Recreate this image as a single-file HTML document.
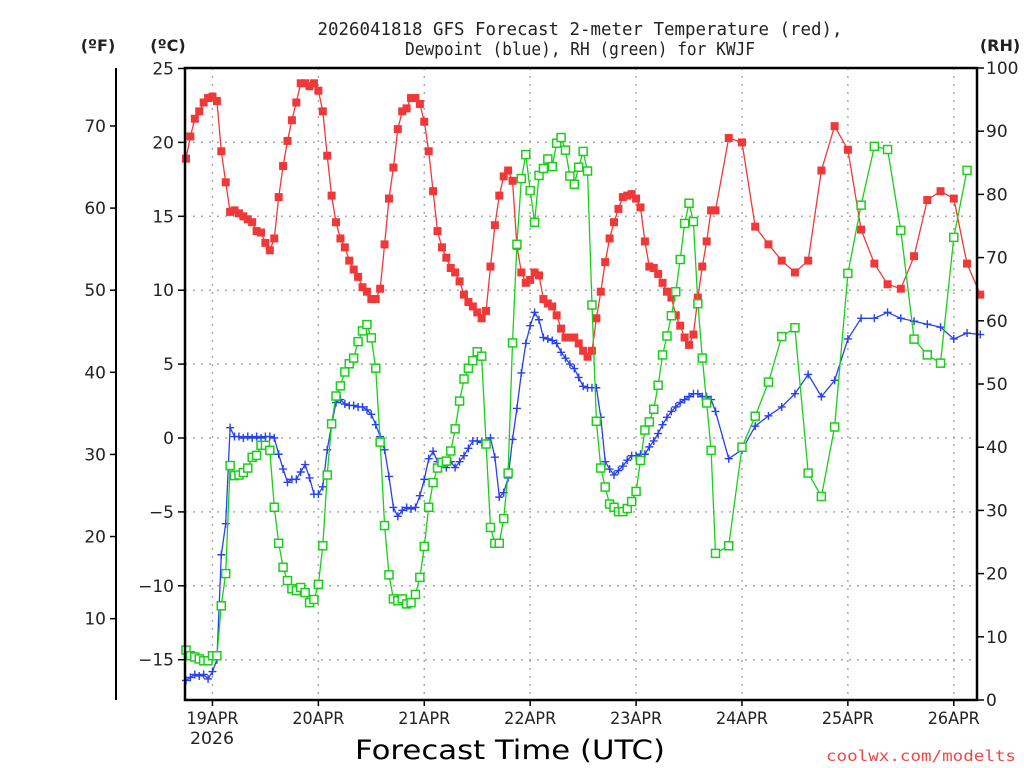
<!DOCTYPE html>
<html><head><meta charset="utf-8"><style>
html,body{margin:0;padding:0;background:#fff;width:1024px;height:768px;overflow:hidden}
svg{display:block}
text{font-family:"DejaVu Sans","Liberation Sans",sans-serif;fill:#222}
</style></head><body>
<svg id="chart" width="1024" height="768" viewBox="0 0 1024 768" xmlns="http://www.w3.org/2000/svg"></svg>
<script>
const tempHours = [];
for (let h = 0; h <= 120; h++) tempHours.push(h);
for (let h = 123; h <= 180; h += 3) tempHours.push(h);
const tempC = [18.9,20.4,21.6,22.1,22.7,23.0,23.1,22.8,19.4,17.3,15.3,15.4,15.2,15.0,14.8,14.6,14.0,13.9,13.2,12.7,13.5,16.3,18.4,20.1,21.5,22.7,24.0,24.0,23.8,24.0,23.5,22.1,19.1,16.4,14.6,13.5,12.9,12.0,11.4,10.9,10.2,9.9,9.4,9.4,10.1,13.1,16.2,18.3,20.9,22.1,22.3,23.0,23.0,22.6,21.4,19.4,16.7,14.0,12.9,12.2,11.5,11.2,10.6,9.7,9.2,8.9,8.5,8.1,8.6,11.6,14.4,16.4,17.7,18.1,17.4,13.0,11.2,10.5,10.7,11.2,11.0,9.4,9.1,8.9,8.3,7.4,6.8,6.8,6.8,6.4,5.9,5.5,5.9,8.1,9.9,11.9,13.5,14.6,15.5,16.3,16.4,16.5,16.2,15.6,13.3,11.6,11.5,11.1,10.5,9.9,9.5,8.3,7.6,6.8,6.3,7.0,9.5,11.6,13.3,15.4,15.4,
20.3,20.0,14.3,13.1,12.0,11.2,12.0,18.1,21.1,19.5,14.1,11.8,10.4,10.1,12.3,16.1,16.7,16.2,11.8,9.7];
const dewC = [-16.4,-16.2,-16.0,-16.1,-16.0,-16.3,-15.8,-15.0,-7.9,-5.8,0.7,0.1,0.1,0.0,0.1,0.0,0.1,0.0,0.1,0.1,0.0,-1.1,-2.1,-3.0,-2.8,-2.8,-2.3,-1.8,-2.7,-3.8,-3.8,-3.3,-0.8,0.9,2.4,2.6,2.3,2.2,2.2,2.1,2.1,1.9,1.6,0.9,0.1,-0.8,-2.6,-4.7,-5.3,-4.9,-4.7,-4.8,-4.7,-3.9,-2.8,-1.4,-0.9,-1.6,-1.7,-2.0,-1.6,-2.0,-1.6,-1.2,-0.7,-0.2,-0.2,-0.3,-0.2,0.0,-1.3,-4.0,-3.7,-2.7,-0.1,2.0,4.4,6.4,7.6,8.5,8.0,6.8,6.7,6.6,6.4,5.8,5.4,5.0,4.7,4.1,3.5,3.4,3.4,3.4,1.4,-1.6,-2.1,-2.5,-2.2,-1.9,-1.5,-1.2,-1.2,-1.1,-1.1,-0.6,-0.2,0.3,0.9,1.4,1.8,2.1,2.4,2.6,2.8,3.0,3.0,2.8,2.8,2.6,1.8,
-1.4,-0.8,0.8,1.5,2.1,3.0,4.3,2.8,3.9,6.7,8.1,8.1,8.5,8.1,7.9,7.7,7.5,6.7,7.1,7.0];
const rhPct = [7.9,7.0,6.8,6.5,6.2,6.2,7.0,7.0,14.9,20.0,37.1,35.5,35.6,36.0,36.7,38.4,38.7,40.3,40.3,39.5,30.5,24.8,21.0,18.9,17.6,17.3,17.8,17.0,15.4,15.9,18.3,24.4,35.6,43.7,48.1,49.7,51.9,53.2,54.1,56.7,58.4,59.4,57.3,52.5,40.8,27.6,19.8,16.0,15.7,16.0,15.2,15.4,16.7,19.4,24.3,30.5,34.4,36.7,37.6,37.8,39.4,42.9,47.3,50.8,52.5,53.7,55.1,54.4,40.5,27.3,24.8,24.8,28.7,35.9,56.5,72.1,82.5,86.3,80.6,75.6,83.0,84.1,85.6,84.4,88.1,89.0,87.0,82.9,81.6,84.3,86.8,83.7,62.5,44.1,36.7,33.7,31.0,30.5,29.8,29.8,30.3,31.4,33.0,37.9,42.7,44.0,46.0,49.8,54.6,57.6,60.8,64.6,69.7,75.4,78.6,75.7,62.7,54.1,47.0,39.5,
23.2,24.4,40.0,44.9,50.3,57.5,58.9,35.9,32.2,43.2,67.5,78.3,87.6,87.1,74.3,57.1,54.6,53.3,73.2,83.8];
const dayLabels = ["19APR","20APR","21APR","22APR","23APR","24APR","25APR","26APR"];
const cTicks = [25,20,15,10,5,0,-5,-10,-15];
const fTicks = [70,60,50,40,30,20,10];
const rhTicks = [100,90,80,70,60,50,40,30,20,10,0];

const L=185,R=977,T=68,B=700;
const x = h => 186 + h*(105.9/24);
const yC = c => 438 - c*14.78;
const yF = f => yC((f-32)/1.8);
const yRH = r => B - r*6.32;
const svg = document.getElementById('chart');
const NS='http://www.w3.org/2000/svg';
function mk(tag, attrs, parent){const e=document.createElementNS(NS,tag);for(const k in attrs)e.setAttribute(k,attrs[k]);(parent||svg).appendChild(e);return e;}
function txt(s, attrs, parent){const e=mk('text',attrs,parent);e.textContent=s;return e;}

// grid
const grid=mk('g',{});


cTicks.forEach(c=>{ if(c!==25){const l=mk('line',{x1:L,x2:R,y1:yC(c),y2:yC(c),stroke:'#aaa','stroke-width':1.5,'stroke-dasharray':'2,6'},grid);

}});
dayLabels.forEach((d,i)=>{const xx=x(6+24*i);const l=mk('line',{x1:xx,x2:xx,y1:T,y2:B,stroke:'#aaa','stroke-width':1.5,'stroke-dasharray':'2,6'},grid);

});

// series
function series(vals, yf, color, name, marker){
  const g=mk('g',{});
  
  
  const pts=vals.map((v,i)=>x(tempHours[i]).toFixed(1)+','+yf(v).toFixed(1)).join(' ');
  mk('polyline',{points:pts,fill:'none',stroke:color,'stroke-width':1.3},g);
  vals.forEach((v,i)=>{
    const px=x(tempHours[i]),py=yf(v);let m;
    if(marker==='fill'){m=mk('rect',{x:px-4,y:py-4,width:8,height:8,fill:color},g);}
    else if(marker==='open'){m=mk('rect',{x:px-4,y:py-4,width:8,height:8,fill:'#fff',stroke:color,'stroke-width':1.5},g);}
    else {m=mk('path',{d:`M${px-4},${py}H${px+4}M${px},${py-4}V${py+4}`,stroke:color,'stroke-width':1.4},g);}
    
    
  });
}
series(tempC,yC,'#f03838','temperature-series','fill');
series(dewC,yC,'#2840f0','dewpoint-series','plus');
series(rhPct,yRH,'#18d018','rh-series','open');

// frame
const fr=mk('rect',{x:L,y:T,width:R-L,height:B-T,fill:'none',stroke:'#000','stroke-width':2.5});



// C axis
cTicks.forEach(c=>{mk('line',{x1:L-7,x2:L,y1:yC(c),y2:yC(c),stroke:'#000','stroke-width':1.5});
const t=txt(c<0?'\u2212'+(-c):String(c),{x:L-11,y:yC(c)+6,'text-anchor':'end','font-size':17});

});
// F axis
mk('line',{x1:116,x2:116,y1:T,y2:B,stroke:'#000','stroke-width':2});
fTicks.forEach(f=>{mk('line',{x1:110,x2:116,y1:yF(f),y2:yF(f),stroke:'#000','stroke-width':1.5});
const t=txt(String(f),{x:106,y:yF(f)+6,'text-anchor':'end','font-size':17});

});
// RH axis
rhTicks.forEach(r=>{mk('line',{x1:R,x2:R+7,y1:yRH(r),y2:yRH(r),stroke:'#000','stroke-width':1.5});
const t=txt(String(r),{x:R+9,y:yRH(r)+6,'font-size':17});

});
// x axis
dayLabels.forEach((d,i)=>{const xx=x(6+24*i);mk('line',{x1:xx,x2:xx,y1:B,y2:B+6,stroke:'#000','stroke-width':1.5});
const t=txt(d,{x:xx,y:724,'text-anchor':'middle','font-size':17,textLength:52,lengthAdjust:'spacingAndGlyphs'});

});
</script>
<svg width="1024" height="768" style="position:absolute;left:0;top:0" xmlns="http://www.w3.org/2000/svg">
<text x="212" y="744" text-anchor="middle" font-size="17" textLength="44" lengthAdjust="spacingAndGlyphs">2026</text>
<text x="580" y="35" text-anchor="middle" font-size="18" textLength="525" lengthAdjust="spacingAndGlyphs" style="font-family:'DejaVu Sans Mono',monospace">2026041818 GFS Forecast 2-meter Temperature (red),</text>
<text x="580" y="55" text-anchor="middle" font-size="18" textLength="350" lengthAdjust="spacingAndGlyphs" style="font-family:'DejaVu Sans Mono',monospace">Dewpoint (blue), RH (green) for KWJF</text>
<text x="98" y="51" text-anchor="middle" font-size="16" font-weight="bold">(ºF)</text>
<text x="168" y="51" text-anchor="middle" font-size="16" font-weight="bold">(ºC)</text>
<text x="1000" y="51" text-anchor="middle" font-size="16" font-weight="bold">(RH)</text>
<text x="510" y="759" text-anchor="middle" font-size="27" textLength="310" lengthAdjust="spacingAndGlyphs" style="fill:#000">Forecast Time (UTC)</text>
<text x="1016" y="761" text-anchor="end" font-size="15" textLength="190" lengthAdjust="spacingAndGlyphs" style="fill:#f04848;font-family:'DejaVu Sans Mono',monospace">coolwx.com/modelts</text>
</svg>
</body></html>
